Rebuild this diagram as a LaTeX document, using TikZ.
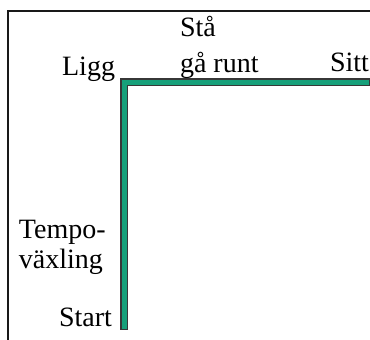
\documentclass[tikz,border=0pt]{standalone}
\usepackage{fontspec}
\setmainfont{Liberation Serif}
\definecolor{trackgreen}{RGB}{22,160,122}
\definecolor{trackedge}{RGB}{55,55,55}
\tikzset{
  lbl/.style={inner sep=0pt, outer sep=0pt, font=\fontsize{28}{33}\selectfont, text=black},
  frameline/.style={line width=2pt, draw=black!90},
  trackout/.style={line width=8pt, draw=trackedge, line cap=rect, line join=miter},
  trackin/.style={line width=5pt, draw=trackgreen, line cap=rect, line join=miter}
}
\begin{document}
\begin{tikzpicture}[x=1pt,y=-1pt]
\useasboundingbox (0,0) rectangle (370,340);
% frame
\coordinate (fbl) at (8,345);
\coordinate (ftl) at (8,11);
\coordinate (ftr) at (375,11);
\draw[frameline] (fbl) -- (ftl) -- (ftr);
% track
\coordinate (start) at (124,326);
\coordinate (corner) at (124,82);
\coordinate (finish) at (366,82);
\draw[trackout] (start) -- (corner) -- (finish);
\draw[trackin] (start) -- (corner) -- (finish);
% labels
\node[lbl, anchor=base west] (sta) at (180,36) {Stå};
\node[lbl, anchor=base west] (garunt) at (180,72) {gå runt};
\node[lbl, anchor=base east] (ligg) at (115,75) {Ligg};
\node[lbl, anchor=base east] (sitt) at (369,71) {Sitt};
\node[lbl, anchor=base west] (tempo) at (19,238) {Tempo-};
\node[lbl, anchor=base west] (vaxling) at (19,268) {växling};
\node[lbl, anchor=base east] (startl) at (112,326) {Start};
\end{tikzpicture}
\end{document}
